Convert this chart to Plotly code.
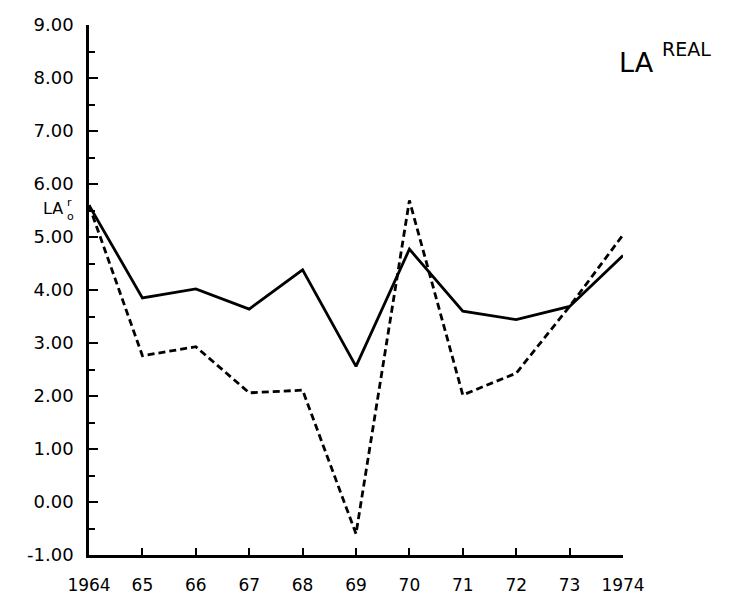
import plotly.graph_objects as go

years = [1964, 1965, 1966, 1967, 1968, 1969, 1970, 1971, 1972, 1973, 1974]
year_labels = ["1964", "65", "66", "67", "68", "69", "70", "71", "72", "73", "1974"]
la_real_solid = [5.60, 3.85, 4.02, 3.64, 4.38, 2.56, 4.77, 3.60, 3.44, 3.69, 4.65]
la_real_dashed = [5.60, 2.76, 2.93, 2.06, 2.11, -0.60, 5.69, 2.02, 2.43, 3.69, 5.04]
y_ticks = [-1, 0, 1, 2, 3, 4, 5, 6, 7, 8, 9]
y_tick_labels = ["-1.00", "0.00", "1.00", "2.00", "3.00", "4.00", "5.00",
                 "6.00", "7.00", "8.00", "9.00"]

# page has an 8px body margin; figure is sized/offset to compensate
OFF = 8
W, H = 721, 587
PL, PR, PT, PB = 89 - OFF, 623 - OFF, 25 - OFF, 555 - OFF  # plot edges in figure coords
PW, PH = PR - PL, PB - PT


def px(xp):
    return (xp - OFF - PL) / PW


def py(yp):
    return (PB - (yp - OFF)) / PH


fig = go.Figure()
fig.add_trace(go.Scatter(x=years, y=la_real_solid, mode="lines",
                         line=dict(color="black", width=2.8),
                         name="solid"))
fig.add_trace(go.Scatter(x=years, y=la_real_dashed, mode="lines",
                         line=dict(color="black", width=2.8, dash="7px,4px"),
                         name="dashed"))

font = "DejaVu Sans"
fig.update_layout(
    width=W, height=H,
    margin=dict(l=PL, r=W - PR, t=PT, b=H - PB, pad=0),
    paper_bgcolor="white", plot_bgcolor="white",
    showlegend=False,
    xaxis=dict(range=[1964, 1974], tickvals=years, ticktext=year_labels,
               automargin=False,
               showgrid=False, zeroline=False, showline=True, linecolor="black",
               linewidth=2.5, ticks="inside", ticklen=7, tickwidth=2,
               tickcolor="black", ticklabelstandoff=13,
               tickfont=dict(family=font, size=17, color="black")),
    yaxis=dict(range=[-1, 9], tickvals=y_ticks, ticktext=y_tick_labels,
               automargin=False,
               showgrid=False, zeroline=False, showline=True, linecolor="black",
               linewidth=2.5, ticks="inside", ticklen=9, tickwidth=2,
               tickcolor="black", ticklabelstandoff=9,
               minor=dict(dtick=0.5, ticks="inside", ticklen=6, tickwidth=1.5,
                          tickcolor="black", showgrid=False),
               tickfont=dict(family=font, size=18, color="black")),
)

fig.add_annotation(xref="paper", yref="paper", x=px(617), y=py(63),
                   text="LA", showarrow=False, xanchor="left", yanchor="middle",
                   font=dict(family=font, size=27, color="black"))
fig.add_annotation(xref="paper", yref="paper", x=px(660), y=py(49),
                   text="REAL", showarrow=False, xanchor="left", yanchor="middle",
                   font=dict(family=font, size=19, color="black"))
fig.add_annotation(xref="paper", yref="y", x=px(65), y=5.53,
                   text="LA", showarrow=False, xanchor="right", yanchor="middle",
                   font=dict(family=font, size=16, color="black"))
fig.add_annotation(xref="paper", yref="y", x=px(66), y=5.52,
                   text="r<br>o", showarrow=False, xanchor="left", yanchor="middle",
                   borderpad=0, align="left",
                   font=dict(family=font, size=11, color="black"))

fig.write_html("out.html")
